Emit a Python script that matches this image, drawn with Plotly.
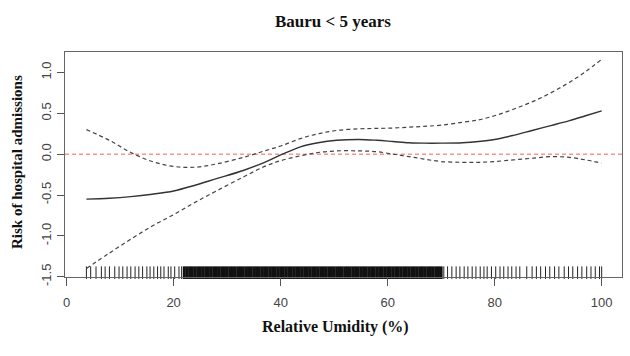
import plotly.graph_objects as go

# ---- data ----
humidity = [3.7, 8, 12, 16, 20, 24, 28, 33, 37, 40, 43.7, 47, 50.5, 54.6, 58, 61, 64, 66.8, 70, 74, 77, 80, 83.5, 87, 90.5, 94, 97, 100]
fit      = [-0.55, -0.54, -0.52, -0.49, -0.45, -0.38, -0.3, -0.2, -0.1, -0.01, 0.09, 0.14, 0.17, 0.18, 0.17, 0.155, 0.14, 0.135, 0.135, 0.14, 0.155, 0.18, 0.23, 0.29, 0.35, 0.41, 0.47, 0.53]
upper    = [0.30, 0.17, 0.02, -0.09, -0.15, -0.16, -0.12, -0.04, 0.04, 0.10, 0.19, 0.25, 0.29, 0.31, 0.315, 0.32, 0.33, 0.34, 0.355, 0.39, 0.42, 0.47, 0.55, 0.64, 0.75, 0.88, 1.01, 1.16]
lower    = [-1.40, -1.21, -1.04, -0.88, -0.74, -0.59, -0.45, -0.28, -0.15, -0.08, -0.02, 0.02, 0.04, 0.04, 0.03, 0.00, -0.03, -0.06, -0.09, -0.10, -0.10, -0.09, -0.07, -0.05, -0.03, -0.04, -0.07, -0.11]

rug_sparse = [3.7, 4.5, 5.5, 6.5, 7.2, 8, 9, 9.8, 10.5, 11.3, 12, 12.8, 13.5, 14.2, 15, 15.6, 16.3, 17, 17.6,
              18.2, 19, 19.5, 20.2, 21, 21.5,
              70.5, 71.2, 72, 72.8, 73.5, 74.3, 75, 75.8, 76.5, 77.3, 78, 78.6, 79.4, 80.2, 81, 81.7, 82.5,
              83.2, 84, 84.7, 86, 87, 87.8, 88.6, 89.5, 90.3, 91.2, 92, 93, 93.8, 94.6, 95.5, 96.3, 97.2, 98,
              98.8, 99.6, 100]
rug_dense = [22, 22.5, 23, 23.5, 24, 24.5, 25, 25.5, 26, 26.5, 27, 27.5, 28, 28.5, 29, 29.5, 30, 30.5, 31, 31.5,
             32, 32.5, 33, 33.5, 34, 34.5, 35, 35.5, 36, 36.5, 37, 37.5, 38, 38.5, 39, 39.5, 40, 40.5, 41, 41.5,
             42, 42.5, 43, 43.5, 44, 44.5, 45, 45.5, 46, 46.5, 47, 47.5, 48, 48.5, 49, 49.5, 50, 50.5, 51, 51.5,
             52, 52.5, 53, 53.5, 54, 54.5, 55, 55.5, 56, 56.5, 57, 57.5, 58, 58.5, 59, 59.5, 60, 60.5, 61, 61.5,
             62, 62.5, 63, 63.5, 64, 64.5, 65, 65.5, 66, 66.5, 67, 67.5, 68, 68.5, 69, 69.5, 70]
rug_level = -1.45
ref_level = 0.0

x_ticks = [0, 20, 40, 60, 80, 100]
y_ticks = [-1.5, -1.0, -0.5, 0.0, 0.5, 1.0]
y_tick_text = ["-1.5", "-1.0", "-0.5", "0.0", "0.5", "1.0"]

title_text = "Bauru < 5 years"
x_title = "Relative Umidity (%)"
y_title = "Risk of hospital admissions"

# ---- figure ----
fig = go.Figure()

fig.add_shape(type="line", xref="paper", x0=0, x1=1, yref="y", y0=ref_level, y1=ref_level,
              line=dict(color="#ff5a5a", width=1, dash="4px,3px"), layer="below")

fig.add_trace(go.Scatter(x=rug_sparse, y=[rug_level] * len(rug_sparse), mode="markers",
                         marker=dict(symbol="line-ns", size=9, line=dict(width=1, color="#222")),
                         cliponaxis=False, hoverinfo="skip"))
fig.add_trace(go.Scatter(x=rug_dense, y=[rug_level] * len(rug_dense), mode="markers",
                         marker=dict(symbol="line-ns", size=9, line=dict(width=3, color="#111")),
                         cliponaxis=False, hoverinfo="skip"))

fig.add_trace(go.Scatter(x=humidity, y=upper, mode="lines", line=dict(color="#444", width=1.2, dash="4px,3px", shape="spline", smoothing=1)))
fig.add_trace(go.Scatter(x=humidity, y=lower, mode="lines", line=dict(color="#444", width=1.2, dash="4px,3px", shape="spline", smoothing=1)))
fig.add_trace(go.Scatter(x=humidity, y=fit, mode="lines", line=dict(color="#333", width=1.4, shape="spline", smoothing=1)))

tick_font = dict(family="Liberation Sans, Arial, sans-serif", size=13, color="#444")
serif = "Liberation Serif, Times New Roman, serif"

fig.update_layout(
    width=630, height=356,
    margin=dict(l=65, r=8, t=52, b=79, autoexpand=False),
    paper_bgcolor="white", plot_bgcolor="white",
    showlegend=False,
)
fig.update_xaxes(range=[-0.3, 103.8], tickvals=x_ticks, ticks="outside", ticklen=8, tickcolor="#555",
                 showline=True, linecolor="#666", linewidth=1, mirror=True, showgrid=False, zeroline=False,
                 tickfont=tick_font, ticklabelstandoff=5, automargin=False)
fig.update_yaxes(range=[-1.503, 1.25], tickvals=y_ticks, ticktext=y_tick_text, tickangle=-90,
                 ticks="outside", ticklen=7, tickcolor="#555",
                 showline=True, linecolor="#666", linewidth=1, mirror=True, showgrid=False, zeroline=False,
                 tickfont=tick_font, ticklabelstandoff=1, automargin=False)

fig.add_annotation(text="<b>" + title_text + "</b>", xref="paper", yref="paper",
                   x=(333 - 65) / 557, y=(277 - 21) / 225, xanchor="center", yanchor="middle",
                   showarrow=False, font=dict(family=serif, size=17, color="#111"))
fig.add_annotation(text="<b>" + x_title + "</b>", xref="paper", yref="paper",
                   x=(335 - 65) / 557, y=(277 - 327) / 225, xanchor="center", yanchor="middle",
                   showarrow=False, font=dict(family=serif, size=16, color="#111"))
fig.add_annotation(text="<b>" + y_title + "</b>", xref="paper", yref="paper",
                   x=(17 - 65) / 557, y=(277 - 162) / 225, xanchor="center", yanchor="middle",
                   textangle=-90, showarrow=False, font=dict(family=serif, size=15, color="#111"))

fig.write_html("out.html", config={"displayModeBar": False},
               post_script="document.body.style.margin='0';")
